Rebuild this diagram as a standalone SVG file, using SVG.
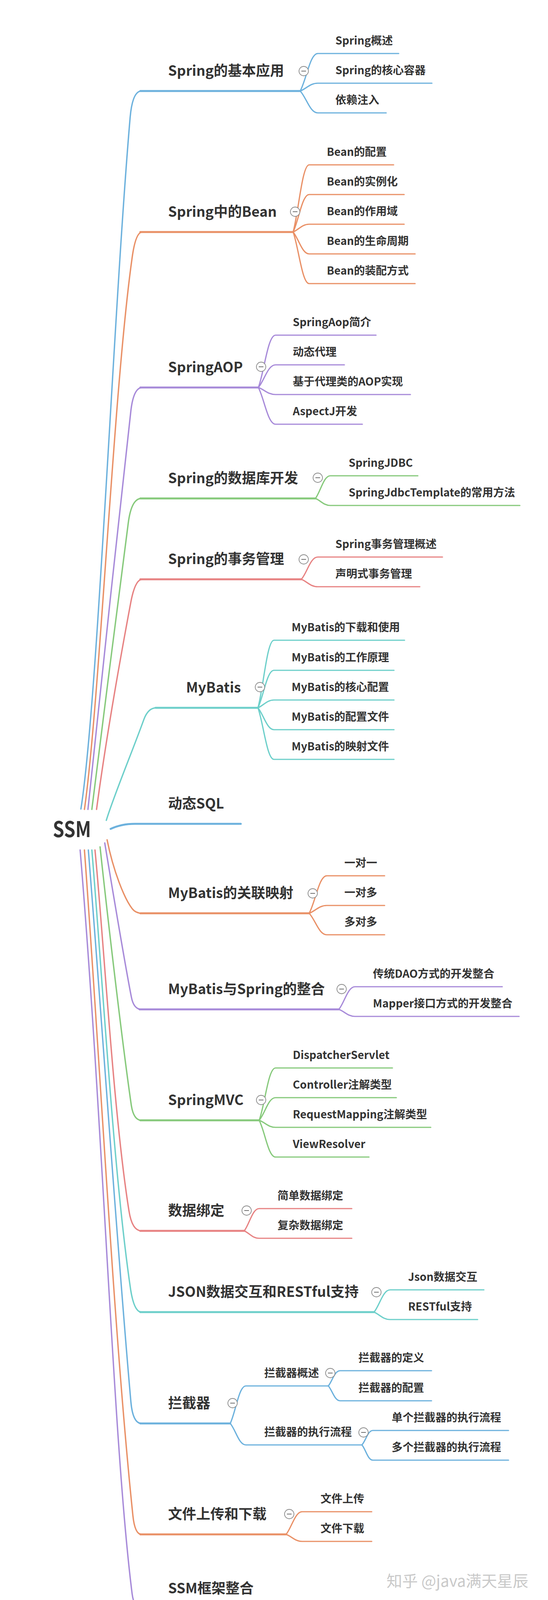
<svg xmlns="http://www.w3.org/2000/svg" width="1402" height="4198" viewBox="0 0 1402 4198">
<style>
text{font-family:"Noto Sans CJK SC","Source Han Sans SC","Noto Sans",sans-serif;fill:#333;font-weight:700}
.root{font-size:56px}
.m{font-size:36px}
.c{font-size:28px}
.wm{font-size:40px;font-weight:400;fill:#c9c9c9}
.b{fill:none;stroke-width:3.5;stroke-linecap:round}
.h{fill:none;stroke-width:5;stroke-linecap:round}
.k{fill:none;stroke-width:3.2;stroke-linecap:round}
.blue{stroke:#6cb1dd}.orange{stroke:#e99066}.purple{stroke:#a78ad9}.green{stroke:#86c97b}.red{stroke:#e78282}.teal{stroke:#6dcfca}
.tg circle{fill:#fff;stroke:#8a8a8a;stroke-width:1.8}
.tg line{stroke:#707070;stroke-width:2}
</style>
<defs>
<g id="tog" class="tg"><circle cx="0" cy="0" r="12"/><line x1="-6" y1="0" x2="6" y2="0"/></g>
</defs>
<rect width="1402" height="4198" fill="#fff"/>
<g id="connectors">
<path class="b blue" d="M207 2071 C250 1800 290 800 333 300 Q339 233 362 233"/><path class="h blue" d="M359 233 L768 233"/>
<path class="b orange" d="M216 2072 C255 1800 290 1000 338 660 Q347 594 364 594"/><path class="h orange" d="M359 594 L750 594"/>
<path class="b purple" d="M225 2072 C255 1800 300 1350 335 1050 Q342 992 364 992"/><path class="h purple" d="M359 992 L661 992"/>
<path class="b green" d="M235 2072 C262 1850 300 1560 328 1340 Q336 1276 362 1276"/><path class="h green" d="M359 1276 L807 1276"/>
<path class="b red" d="M247 2072 C270 1900 305 1700 335 1540 Q346 1483 364 1483"/><path class="h red" d="M359 1483 L771 1483"/>
<path class="b teal" d="M272 2100 C290 2040 340 1920 368 1842 Q379 1812 400 1812"/><path class="h teal" d="M398 1812 L660 1812"/>
<path class="h blue" d="M283 2122 C300 2114 320 2109 345 2109 L616 2109"/>
<path class="b orange" d="M274 2150 C290 2230 318 2300 338 2326 Q347 2338 364 2338"/><path class="h orange" d="M359 2338 L791 2338"/>
<path class="b purple" d="M268 2158 C285 2260 318 2460 336 2552 Q342 2584 362 2584"/><path class="h purple" d="M357 2584 L867 2584"/>
<path class="b green" d="M256 2168 C270 2300 310 2650 336 2830 Q342 2868 362 2868"/><path class="h green" d="M359 2868 L663 2868"/>
<path class="b red" d="M243 2176 C265 2400 290 2850 330 3100 Q338 3151 362 3151"/><path class="h red" d="M359 3151 L625 3151"/>
<path class="b teal" d="M235 2176 C262 2500 290 3000 334 3300 Q343 3359 362 3359"/><path class="h teal" d="M359 3359 L957 3359"/>
<path class="b blue" d="M226 2176 C260 2600 300 3200 335 3590 Q340 3644 362 3644"/><path class="h blue" d="M359 3644 L589 3644"/>
<path class="b orange" d="M216 2176 C255 2700 290 3400 340 3880 Q345 3928 362 3928"/><path class="h orange" d="M359 3928 L732 3928"/>
<path class="b purple" d="M205 2176 C265 2900 290 3700 338 4080 Q343 4118 362 4118"/><path class="h purple" d="M359 4118 L694 4118"/>
<g class="k blue">
<path d="M768 233 C784 204 793 137 813 137 L1020 137"/>
<path d="M768 233 C784 227 793 213 813 213 L1105 213"/>
<path d="M768 233 C784 250 793 289 813 289 L988 289"/>
</g>
<g class="k orange">
<path d="M750 594 C764 542 773 422 791 422 L1007 422"/>
<path d="M750 594 C764 565 773 498 791 498 L1034 498"/>
<path d="M750 594 C764 588 773 574 791 574 L1034 574"/>
<path d="M750 594 C764 611 773 650 791 650 L1062 650"/>
<path d="M750 594 C764 634 773 726 791 726 L1062 726"/>
</g>
<g class="k purple">
<path d="M661 992 C676 952 685 858 705 858 L962 858"/>
<path d="M661 992 C676 975 685 934 705 934 L881 934"/>
<path d="M661 992 C676 997 685 1010 705 1010 L1050 1010"/>
<path d="M661 992 C676 1020 685 1086 705 1086 L927 1086"/>
</g>
<g class="k green">
<path d="M807 1276 C820 1259 828 1218 845 1218 L1069 1218"/>
<path d="M807 1276 C820 1281 828 1294 845 1294 L1330 1294"/>
</g>
<g class="k red">
<path d="M771 1483 C786 1466 794 1426 813 1426 L1132 1426"/>
<path d="M771 1483 C786 1489 794 1502 813 1502 L1074 1502"/>
</g>
<g class="k teal">
<path d="M660 1812 C674 1760 683 1639 701 1639 L1035 1639"/>
<path d="M660 1812 C674 1783 683 1716 701 1716 L1008 1716"/>
<path d="M660 1812 C674 1806 683 1792 701 1792 L1008 1792"/>
<path d="M660 1812 C674 1829 683 1868 701 1868 L1008 1868"/>
<path d="M660 1812 C674 1852 683 1944 701 1944 L1008 1944"/>
</g>
<g class="k orange">
<path d="M791 2338 C807 2309 816 2242 836 2242 L984 2242"/>
<path d="M791 2338 C807 2332 816 2318 836 2318 L984 2318"/>
<path d="M791 2338 C807 2355 816 2393 836 2393 L984 2393"/>
</g>
<g class="k purple">
<path d="M867 2584 C881 2567 890 2526 908 2526 L1285 2526"/>
<path d="M867 2584 C881 2589 890 2602 908 2602 L1328 2602"/>
</g>
<g class="k green">
<path d="M663 2868 C678 2828 686 2734 705 2734 L1004 2734"/>
<path d="M663 2868 C678 2851 686 2810 705 2810 L1014 2810"/>
<path d="M663 2868 C678 2873 686 2886 705 2886 L1102 2886"/>
<path d="M663 2868 C678 2896 686 2962 705 2962 L944 2962"/>
</g>
<g class="k red">
<path d="M625 3151 C638 3134 646 3094 663 3094 L900 3094"/>
<path d="M625 3151 C638 3157 646 3170 663 3170 L900 3170"/>
</g>
<g class="k teal">
<path d="M957 3359 C971 3342 980 3302 998 3302 L1238 3302"/>
<path d="M957 3359 C971 3365 980 3378 998 3378 L1222 3378"/>
</g>
<g class="k blue">
<path d="M589 3644 C603 3615 611 3548 629 3548 L840 3548"/>
<path d="M589 3644 C603 3660 611 3699 629 3699 L926 3699"/>
<path d="M840 3548 C850 3536 856 3509 870 3509 L1104 3509"/>
<path d="M840 3548 C850 3559 856 3586 870 3586 L1104 3586"/>
<path d="M926 3699 C936 3688 941 3662 954 3662 L1301 3662"/>
<path d="M926 3699 C936 3711 941 3738 954 3738 L1301 3738"/>
</g>
<g class="k orange">
<path d="M732 3928 C746 3911 755 3870 773 3870 L951 3870"/>
<path d="M732 3928 C746 3933 755 3946 773 3946 L951 3946"/>
</g>
</g>
<g id="root"><text class="root" x="135" y="2143" textLength="98" lengthAdjust="spacingAndGlyphs">SSM</text></g>
<g id="n1"><text class="m" x="430" y="194">Spring的基本应用</text><use href="#tog" x="777" y="182"/></g>
<g id="n1-1"><text class="c" x="858" y="114">Spring概述</text></g>
<g id="n1-2"><text class="c" x="858" y="190">Spring的核心容器</text></g>
<g id="n1-3"><text class="c" x="858" y="266">依赖注入</text></g>
<g id="n2"><text class="m" x="430" y="555">Spring中的Bean</text><use href="#tog" x="755" y="542"/></g>
<g id="n2-1"><text class="c" x="836" y="399">Bean的配置</text></g>
<g id="n2-2"><text class="c" x="836" y="475">Bean的实例化</text></g>
<g id="n2-3"><text class="c" x="836" y="551">Bean的作用域</text></g>
<g id="n2-4"><text class="c" x="836" y="627">Bean的生命周期</text></g>
<g id="n2-5"><text class="c" x="836" y="703">Bean的装配方式</text></g>
<g id="n3"><text class="m" x="430" y="953">SpringAOP</text><use href="#tog" x="668" y="939"/></g>
<g id="n3-1"><text class="c" x="749" y="835">SpringAop简介</text></g>
<g id="n3-2"><text class="c" x="749" y="911">动态代理</text></g>
<g id="n3-3"><text class="c" x="749" y="987">基于代理类的AOP实现</text></g>
<g id="n3-4"><text class="c" x="749" y="1063">AspectJ开发</text></g>
<g id="n4"><text class="m" x="430" y="1237">Spring的数据库开发</text><use href="#tog" x="813" y="1223"/></g>
<g id="n4-1"><text class="c" x="892" y="1195">SpringJDBC</text></g>
<g id="n4-2"><text class="c" x="892" y="1271">SpringJdbcTemplate的常用方法</text></g>
<g id="n5"><text class="m" x="430" y="1444">Spring的事务管理</text><use href="#tog" x="777" y="1432"/></g>
<g id="n5-1"><text class="c" x="858" y="1403">Spring事务管理概述</text></g>
<g id="n5-2"><text class="c" x="858" y="1479">声明式事务管理</text></g>
<g id="n6"><text class="m" x="476" y="1773">MyBatis</text><use href="#tog" x="665" y="1759"/></g>
<g id="n6-1"><text class="c" x="746" y="1616">MyBatis的下载和使用</text></g>
<g id="n6-2"><text class="c" x="746" y="1693">MyBatis的工作原理</text></g>
<g id="n6-3"><text class="c" x="746" y="1769">MyBatis的核心配置</text></g>
<g id="n6-4"><text class="c" x="746" y="1845">MyBatis的配置文件</text></g>
<g id="n6-5"><text class="c" x="746" y="1921">MyBatis的映射文件</text></g>
<g id="n7"><text class="m" x="430" y="2070">动态SQL</text></g>
<g id="n8"><text class="m" x="430" y="2299">MyBatis的关联映射</text><use href="#tog" x="800" y="2287"/></g>
<g id="n8-1"><text class="c" x="881" y="2219">一对一</text></g>
<g id="n8-2"><text class="c" x="881" y="2295">一对多</text></g>
<g id="n8-3"><text class="c" x="881" y="2370">多对多</text></g>
<g id="n9"><text class="m" x="430" y="2545">MyBatis与Spring的整合</text><use href="#tog" x="874" y="2532"/></g>
<g id="n9-1"><text class="c" x="954" y="2503">传统DAO方式的开发整合</text></g>
<g id="n9-2"><text class="c" x="954" y="2579">Mapper接口方式的开发整合</text></g>
<g id="n10"><text class="m" x="430" y="2829">SpringMVC</text><use href="#tog" x="668" y="2816"/></g>
<g id="n10-1"><text class="c" x="749" y="2711">DispatcherServlet</text></g>
<g id="n10-2"><text class="c" x="749" y="2787">Controller注解类型</text></g>
<g id="n10-3"><text class="c" x="749" y="2863">RequestMapping注解类型</text></g>
<g id="n10-4"><text class="c" x="749" y="2939">ViewResolver</text></g>
<g id="n11"><text class="m" x="430" y="3112">数据绑定</text><use href="#tog" x="631" y="3099"/></g>
<g id="n11-1"><text class="c" x="710" y="3071">简单数据绑定</text></g>
<g id="n11-2"><text class="c" x="710" y="3147">复杂数据绑定</text></g>
<g id="n12"><text class="m" x="430" y="3320">JSON数据交互和RESTful支持</text><use href="#tog" x="963" y="3308"/></g>
<g id="n12-1"><text class="c" x="1044" y="3279">Json数据交互</text></g>
<g id="n12-2"><text class="c" x="1044" y="3355">RESTful支持</text></g>
<g id="n13"><text class="m" x="430" y="3605">拦截器</text><use href="#tog" x="595" y="3592"/></g>
<g id="n13-1"><text class="c" x="676" y="3525">拦截器概述</text><use href="#tog" x="845" y="3515"/></g>
<g id="n13-1-1"><text class="c" x="917" y="3486">拦截器的定义</text></g>
<g id="n13-1-2"><text class="c" x="917" y="3563">拦截器的配置</text></g>
<g id="n13-2"><text class="c" x="676" y="3676">拦截器的执行流程</text><use href="#tog" x="930" y="3667"/></g>
<g id="n13-2-1"><text class="c" x="1002" y="3639">单个拦截器的执行流程</text></g>
<g id="n13-2-2"><text class="c" x="1002" y="3715">多个拦截器的执行流程</text></g>
<g id="n14"><text class="m" x="430" y="3889">文件上传和下载</text><use href="#tog" x="740" y="3876"/></g>
<g id="n14-1"><text class="c" x="820" y="3847">文件上传</text></g>
<g id="n14-2"><text class="c" x="820" y="3923">文件下载</text></g>
<g id="n15"><text class="m" x="430" y="4079">SSM框架整合</text></g>
<g id="watermark"><text class="wm" x="989" y="4062">知乎 @java满天星辰</text></g>
</svg>
